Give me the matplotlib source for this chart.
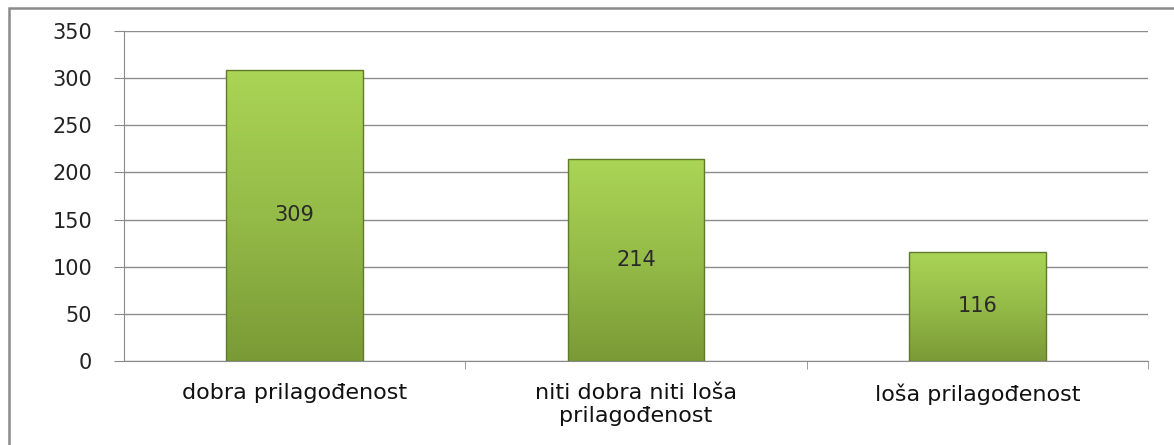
import matplotlib
matplotlib.use("Agg")
import matplotlib.pyplot as plt
import numpy as np
from matplotlib.patches import Rectangle
from matplotlib.colors import LinearSegmentedColormap

categories = ["dobra prilagođenost", "niti dobra niti loša\nprilagođenost", "loša prilagođenost"]
values = [309, 214, 116]
yticks = [0, 50, 100, 150, 200, 250, 300, 350]

fig = plt.figure(figsize=(11.74, 4.45), dpi=100)
ax = fig.add_axes([124/1174, 1-361/445, (1148-124)/1174, (361-31)/445])

# outer frame
fig.patches.append(Rectangle((9/1174, -0.2), 2.0, 1.2 - 8/445, transform=fig.transFigure,
                             fill=False, edgecolor="#8a8a8a", linewidth=1.8, zorder=0))

x = np.arange(len(categories))
width = 0.4
bars = ax.bar(x, values, width=width, color="none", edgecolor="#5f7a2a", linewidth=1.0, zorder=3)

cmap = LinearSegmentedColormap.from_list("g", ["#7a9a36", "#95bb48", "#aad555"])
grad = np.linspace(0, 1, 256).reshape(-1, 1)
for b in bars:
    x0, w, h = b.get_x(), b.get_width(), b.get_height()
    im = ax.imshow(grad, extent=[x0, x0 + w, 0, h], origin="lower", cmap=cmap,
                   aspect="auto", zorder=2, interpolation="bicubic")
    im.set_clip_path(b)

for xi, v in zip(x, values):
    ax.text(xi, v / 2, str(v), ha="center", va="center", fontsize=15,
            color="#2a2a2a", zorder=4)

ax.set_xlim(-0.5, len(categories) - 0.5)
ax.set_ylim(0, 350)
ax.set_yticks(yticks)
ax.set_yticklabels([str(t) for t in yticks], fontsize=15, color="#222222")
ax.set_xticks(x)
ax.set_xticklabels(categories, fontsize=16, color="#111111", linespacing=1.2)
ax.tick_params(axis="x", length=0, pad=16)
ax.set_xticks(np.arange(len(categories)) + 0.5, minor=True)
ax.tick_params(axis="x", which="minor", length=6, color="#8a8a8a", direction="out")
ax.tick_params(axis="y", length=7, color="#8a8a8a", pad=16)

ax.grid(axis="y", color="#8c8c8c", linewidth=1.0, zorder=0)
ax.set_axisbelow(True)
for s in ["top", "right"]:
    ax.spines[s].set_visible(False)
ax.spines["left"].set_color("#8a8a8a")
ax.spines["bottom"].set_color("#8a8a8a")

fig.savefig("out.png", dpi=100)
